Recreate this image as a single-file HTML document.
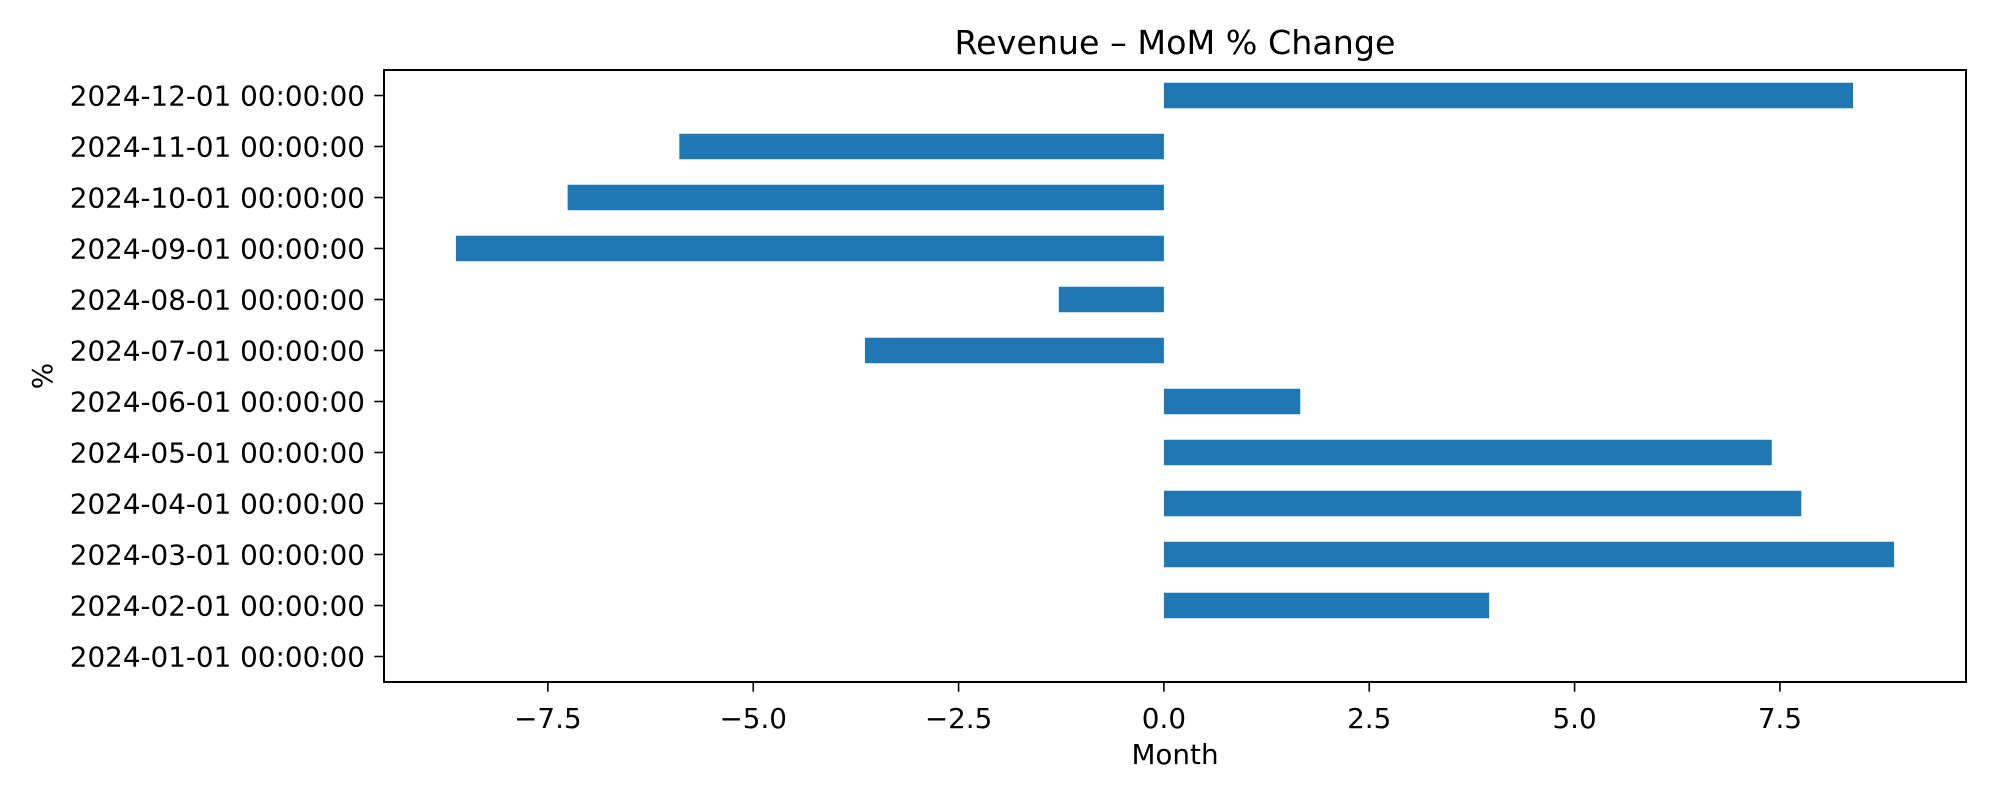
<!DOCTYPE html>
<html><head><meta charset="utf-8"><style>
html,body{margin:0;padding:0;background:#fff;}
svg{display:block;font-family:"DejaVu Sans","Liberation Sans",sans-serif;}
</style></head><body>
<svg id="chart" width="2000" height="800"></svg>
<script>
const categories=["2024-01-01 00:00:00","2024-02-01 00:00:00","2024-03-01 00:00:00","2024-04-01 00:00:00","2024-05-01 00:00:00","2024-06-01 00:00:00","2024-07-01 00:00:00","2024-08-01 00:00:00","2024-09-01 00:00:00","2024-10-01 00:00:00","2024-11-01 00:00:00","2024-12-01 00:00:00"];
const values=[0,3.96,8.89,7.76,7.40,1.66,-3.64,-1.28,-8.62,-7.26,-5.90,8.39];
const xTicks=[-7.5,-5.0,-2.5,0.0,2.5,5.0,7.5];
const xTickLabels=["\u22127.5","\u22125.0","\u22122.5","0.0","2.5","5.0","7.5"];

const L=384,R=1966,T=70,B=682;
const NS="http://www.w3.org/2000/svg";
const svg=document.getElementById('chart');
const mn=Math.min(0,...values),mx=Math.max(0,...values),pad=(mx-mn)*0.05;
const x0=mn-pad,x1=mx+pad;
function xs(v){return L+(v-x0)/(x1-x0)*(R-L);}
function ys(i){const n=categories.length;return T+(n-0.5-i)/n*(B-T);}
function mk(t,a,txt){const e=document.createElementNS(NS,t);for(const k in a)e.setAttribute(k,a[k]);if(txt!==undefined)e.textContent=txt;svg.appendChild(e);return e;}
const rowH=(B-T)/categories.length;
values.forEach((v,i)=>{
  const a=xs(Math.min(0,v)),b=xs(Math.max(0,v));
  const r=mk('rect',{x:a,y:ys(i)-rowH*0.25,width:Math.max(0,b-a),height:rowH*0.5,fill:'#1f77b4'});
  
  
});
mk('rect',{x:L,y:T,width:R-L,height:B-T,fill:'none',stroke:'#000','stroke-width':2,});
categories.forEach((c,i)=>{
  const y=ys(i);
  mk('line',{x1:L,x2:L-9.7,y1:y,y2:y,stroke:'#000','stroke-width':1.6});
  const t=mk('text',{x:L-19,y:y+10,'text-anchor':'end','font-size':27.8},c);
  
  
});
xTicks.forEach((v,i)=>{
  const x=xs(v);
  mk('line',{x1:x,x2:x,y1:B,y2:B+9.7,stroke:'#000','stroke-width':1.6});
  const t=mk('text',{x:x,y:B+46,'text-anchor':'middle','font-size':27.8},xTickLabels[i]);
  
  
});
mk('text',{x:(L+R)/2,y:54,'text-anchor':'middle','font-size':33.3,},'Revenue \u2013 MoM % Change');
mk('text',{x:(L+R)/2,y:764,'text-anchor':'middle','font-size':27.8,},'Month');
mk('text',{x:52,y:(T+B)/2,'text-anchor':'middle','font-size':27.8,transform:'rotate(-90 52 '+((T+B)/2)+')',},'%');
</script>
</body></html>
